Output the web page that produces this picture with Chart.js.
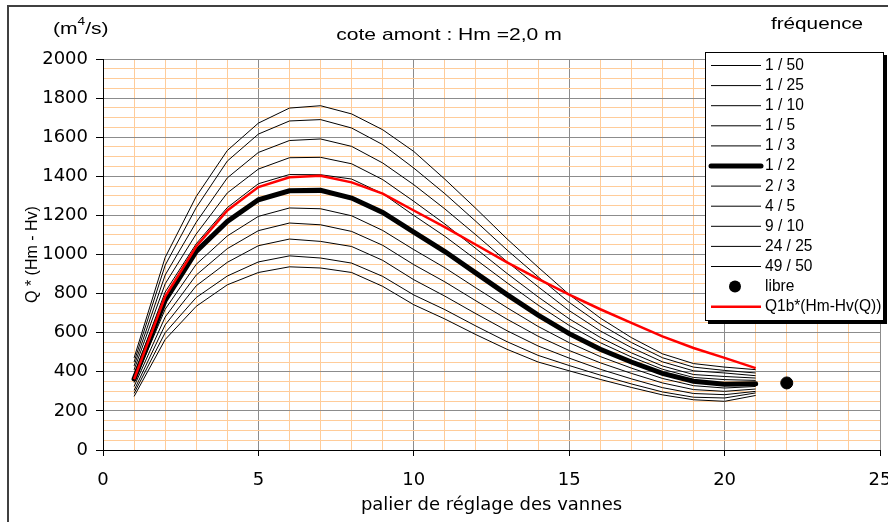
<!DOCTYPE html>
<html>
<head>
<meta charset="utf-8">
<script src="https://cdn.jsdelivr.net/npm/chart.js"></script>
<style>
  body { margin: 0; background: #fff; }
  #cadre { width: 888px; height: 522px; }
</style>
</head>
<body>
<div id="cadre"><canvas id="graphe" width="888" height="522"></canvas></div>
<script>
// paliers de réglage des vannes (abscisses)
const paliers = [1, 2, 3, 4, 5, 6, 7, 8, 9, 10, 11, 12, 13, 14, 15, 16, 17, 18, 19, 20, 21];

// fréquences (légende)
const frequences = ['1 / 50', '1 / 25', '1 / 10', '1 / 5', '1 / 3', '1 / 2', '2 / 3', '4 / 5', '9 / 10', '24 / 25', '49 / 50'];

// Q * (Hm - Hv) pour chaque fréquence
const q_1_50  = [471, 985, 1297, 1532, 1672, 1749, 1761, 1719, 1638, 1527, 1385, 1235, 1080, 935, 795, 675, 575, 492, 442, 424, 411];
const q_1_25  = [450, 945, 1240, 1478, 1616, 1683, 1690, 1647, 1562, 1442, 1311, 1169, 1023, 886, 755, 643, 550, 472, 424, 407, 394];
const q_1_10  = [430, 895, 1165, 1392, 1522, 1583, 1591, 1553, 1468, 1357, 1233, 1100, 963, 835, 713, 609, 524, 451, 405, 394, 380];
const q_1_5   = [410, 850, 1105, 1315, 1437, 1495, 1497, 1464, 1383, 1272, 1156, 1030, 903, 783, 671, 576, 497, 430, 386, 376, 368];
const q_1_3   = [385, 808, 1055, 1240, 1362, 1409, 1408, 1386, 1311, 1200, 1093, 974, 855, 741, 637, 549, 476, 413, 371, 360, 356];
const q_1_2   = [363, 765, 1016, 1169, 1280, 1326, 1328, 1289, 1215, 1115, 1015, 905, 795, 690, 595, 515, 450, 392, 352, 336, 339];
const q_2_3   = [345, 720, 950, 1095, 1195, 1238, 1234, 1198, 1123, 1025, 932, 829, 728, 632, 549, 478, 419, 366, 329, 317, 325];
const q_4_5   = [325, 680, 895, 1030, 1122, 1161, 1152, 1118, 1047, 948, 860, 763, 669, 582, 509, 446, 392, 343, 309, 300, 312];
const q_9_10  = [305, 640, 840, 960, 1045, 1079, 1067, 1041, 970, 871, 787, 697, 610, 532, 470, 413, 364, 319, 289, 283, 300];
const q_24_25 = [290, 600, 780, 890, 962, 993, 982, 956, 888, 793, 718, 634, 554, 484, 432, 383, 338, 297, 270, 266, 292];
const q_49_50 = [274, 565, 735, 845, 908, 937, 931, 908, 837, 743, 670, 590, 515, 450, 405, 361, 320, 282, 257, 249, 279];

// courbe Q1b*(Hm-Hv(Q))
const qRouge = [362, 785, 1041, 1225, 1345, 1395, 1403, 1369, 1311, 1225, 1140, 1050, 960, 875, 795, 720, 650, 581, 522, 471, 419];

// écoulement libre
const palierLibre = [22];
const qLibre = [343];

const series = [q_1_50, q_1_25, q_1_10, q_1_5, q_1_3, q_1_2, q_2_3, q_4_5, q_9_10, q_24_25, q_49_50];

function versXY(xs, ys) {
    return xs.map((x, i) => ({ x: x, y: ys[i] }));
}

const datasets = [
    {
        label: 'Q1b*(Hm-Hv(Q))',
        data: versXY(paliers, qRouge),
        borderColor: '#ff0000',
        borderWidth: 2.5,
        pointRadius: 0
    },
    {
        label: 'libre',
        data: versXY(palierLibre, qLibre),
        showLine: false,
        pointRadius: 6,
        pointBackgroundColor: '#000',
        pointBorderColor: '#000'
    }
];
series.forEach((s, i) => {
    datasets.push({
        label: frequences[i],
        data: versXY(paliers, s),
        borderColor: '#000',
        borderWidth: i === 5 ? 5 : 1,
        borderCapStyle: i === 5 ? 'round' : 'butt',
        pointRadius: 0
    });
});

const GRIS = '#8c8c8c';
const ORANGE = '#ffcc99';

// texte Arial légèrement étiré (comme dans le graphique Excel)
function texte(ctx, txt, x, y, taille, align, etire) {
    ctx.save();
    ctx.font = taille + 'px "Liberation Sans", Arial, sans-serif';
    ctx.fillStyle = '#000';
    ctx.textBaseline = 'middle';
    ctx.textAlign = align;
    ctx.translate(x, y);
    ctx.scale(etire, 1);
    ctx.fillText(txt, 0, 0);
    const w = ctx.measureText(txt).width * etire;
    ctx.restore();
    return w;
}

const habillage = {
    id: 'habillage',
    afterDraw(chart) {
        const ctx = chart.ctx;
        ctx.save();
        // bordure de la zone de graphique
        ctx.strokeStyle = '#404040';
        ctx.lineWidth = 2;
        ctx.strokeRect(8, 6, 900, 540);

        // unité
        let x = 53;
        x += texte(ctx, '(m', x, 29, 17, 'left', 1.24);
        x += texte(ctx, '4', x, 22, 11, 'left', 1.24);
        texte(ctx, '/s)', x, 29, 17, 'left', 1.24);

        // titre
        texte(ctx, 'cote amont : Hm =2,0 m', 449, 35, 17, 'center', 1.24);
        texte(ctx, 'fréquence', 817, 24, 17, 'center', 1.22);

        // légende
        ctx.fillStyle = '#000';
        ctx.fillRect(708, 55, 179, 269);
        ctx.fillStyle = '#fff';
        ctx.fillRect(705, 52, 179, 269);
        ctx.strokeStyle = '#000';
        ctx.lineWidth = 1;
        ctx.strokeRect(705.5, 52.5, 178, 268);

        const ordre = [];
        series.forEach((s, i) => ordre.push(2 + i));
        ordre.push(1, 0);
        ordre.forEach((di, r) => {
            const ds = chart.data.datasets[di];
            const y = 65.5 + r * 20.1;
            if (ds.showLine === false) {
                ctx.fillStyle = '#000';
                ctx.beginPath();
                ctx.arc(735, y, 6, 0, Math.PI * 2);
                ctx.fill();
            } else {
                ctx.strokeStyle = ds.borderColor;
                ctx.lineWidth = ds.borderWidth;
                ctx.lineCap = ds.borderCapStyle || 'butt';
                ctx.beginPath();
                ctx.moveTo(711, y);
                ctx.lineTo(761, y);
                ctx.stroke();
            }
            texte(ctx, ds.label, 765, y, 16, 'left', 0.97);
        });
        ctx.restore();
    }
};

new Chart(document.getElementById('graphe').getContext('2d'), {
    type: 'line',
    data: { datasets: datasets },
    options: {
        responsive: false,
        animation: false,
        devicePixelRatio: 1,
        layout: { padding: { left: 0, top: 59, right: 8, bottom: 0 } },
        plugins: {
            legend: { display: false },
            tooltip: { enabled: false }
        },
        elements: { line: { tension: 0 } },
        scales: {
            x: {
                type: 'linear',
                min: 0,
                max: 25,
                ticks: {
                    stepSize: 1,
                    autoSkip: false,
                    maxRotation: 0,
                    padding: 14,
                    color: '#000',
                    font: { family: '"DejaVu Sans"', size: 18 },
                    callback: v => (v % 5 === 0 ? v : '')
                },
                grid: {
                    color: c => (c.tick && c.tick.value % 5 === 0 ? GRIS : ORANGE),
                    tickColor: c => (c.tick && c.tick.value % 5 === 0 ? '#000' : 'rgba(0,0,0,0)'),
                    tickLength: 6
                },
                border: { color: '#000', width: 1 },
                title: {
                    display: true,
                    text: 'palier de réglage des vannes',
                    color: '#000',
                    font: { family: '"DejaVu Sans"', size: 18 },
                    padding: { top: 0, bottom: 6 }
                },
                afterFit: s => { s.height = 72; s.paddingLeft = 0; s.paddingRight = 0; }
            },
            y: {
                min: 0,
                max: 2000,
                ticks: {
                    stepSize: 50,
                    autoSkip: false,
                    padding: 8,
                    color: '#000',
                    font: { family: '"DejaVu Sans"', size: 18 },
                    callback: v => (v % 200 === 0 ? v : '')
                },
                grid: {
                    color: c => (c.tick && c.tick.value % 200 === 0 ? GRIS : ORANGE),
                    tickColor: c => (c.tick && c.tick.value % 200 === 0 ? '#000' : 'rgba(0,0,0,0)'),
                    tickLength: 7
                },
                border: { color: '#000', width: 1 },
                title: {
                    display: true,
                    text: 'Q * (Hm - Hv)',
                    color: '#000',
                    font: { family: '"Liberation Sans"', size: 16 },
                    padding: { top: 23, bottom: 0 }
                },
                afterFit: s => { s.width = 103; s.paddingTop = 0; s.paddingBottom = 0; }
            }
        }
    },
    plugins: [habillage]
});
</script>
</body>
</html>
